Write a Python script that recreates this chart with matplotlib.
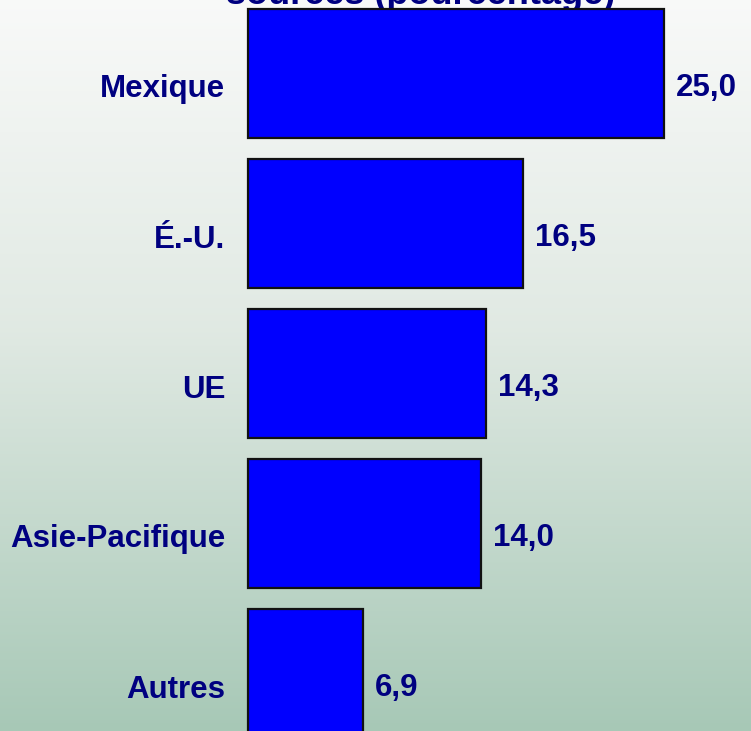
import matplotlib
matplotlib.use("Agg")
import matplotlib.pyplot as plt
import numpy as np

categories = ["Mexique", "É.-U.", "UE", "Asie-Pacifique", "Autres"]
values = [25.0, 16.5, 14.3, 14.0, 6.9]
value_labels = ["25,0", "16,5", "14,3", "14,0", "6,9"]
title = "sources (pourcentage)"

W, H = 751, 731
fig = plt.figure(figsize=(W / 100, H / 100), dpi=100)

# background gradient
bg = fig.add_axes([0, 0, 1, 1], zorder=0)
bg.set_axis_off()
t = np.linspace(0, 1, 256)[:, None]
top = np.array([0.975, 0.978, 0.975])
mid = np.array([0.88, 0.915, 0.89])
bot = np.array([0.655, 0.785, 0.715])
col = np.where(t[..., None] < 0.45,
               top + (mid - top) * (t[..., None] / 0.45),
               mid + (bot - mid) * ((t[..., None] - 0.45) / 0.55))
img = np.repeat(col, 4, axis=1)
bg.imshow(img, aspect="auto", extent=[0, 1, 0, 1], origin="upper")

ax = fig.add_axes([0, 0, 1, 1], zorder=1)
ax.patch.set_alpha(0)
pxu = 16.65
x0 = 248
ax.set_xlim(-x0 / pxu, (W - x0) / pxu)
ax.set_ylim((H - 73) / 150, -73 / 150)
ax.set_axis_off()

navy = "#000080"
fs = 22.5
y = np.arange(len(categories))
ax.barh(y, values, height=0.86, color="#0000FF", edgecolor="#111111", linewidth=1.6)

for yi, v, lab, cat in zip(y, values, value_labels, categories):
    ax.text(v + 12 / pxu, yi + 0.1, lab, ha="left", va="center",
            fontsize=fs, fontweight="bold", color=navy, family="Liberation Sans")
    ax.text(-23 / pxu, yi + 0.11, cat, ha="right", va="center",
            fontsize=fs, fontweight="bold", color=navy, family="Liberation Sans")

fig.text(226 / W, 1 - 4 / H, title, ha="left", va="baseline", fontsize=26,
         fontweight="bold", color=navy, family="Liberation Sans", zorder=0.5)

fig.savefig("out.png", dpi=100)
